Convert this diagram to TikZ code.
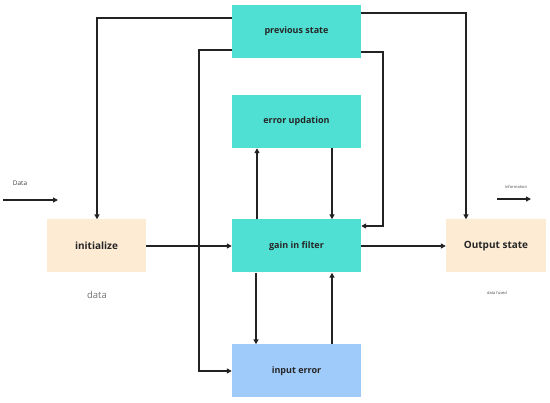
\documentclass[tikz,border=0pt]{standalone}
\usepackage{fontspec}
\setmainfont{Open Sans}
\usetikzlibrary{arrows.meta}
\definecolor{teal1}{HTML}{4FE0D3}
\definecolor{beige1}{HTML}{FDEBD3}
\definecolor{blue1}{HTML}{9FCBFA}
\definecolor{line1}{HTML}{222222}
\begin{document}
\begin{tikzpicture}[x=1pt,y=-1pt,
  box/.style={minimum width=129pt,minimum height=53pt,inner sep=0pt,font=\fontsize{9}{10}\selectfont\bfseries,text=black!85},
  conn/.style={draw=line1,line width=1.4pt,-{Triangle[length=5pt,width=5pt]}},
  plain/.style={draw=line1,line width=1.4pt}]
\useasboundingbox (0,0) rectangle (550,403);
\node[box,fill=teal1] (prev) at (296.5,31.5) {previous state};
\node[box,fill=teal1] (err) at (296.5,121.5) {error updation};
\node[box,fill=teal1] (gain) at (296.5,246) {gain in filter};
\node[box,fill=blue1] (inp) at (296.5,371) {input error};
\node[box,fill=beige1,minimum width=99pt,font=\fontsize{10}{11}\selectfont\bfseries] (init) at (96.5,246) {initialize};
\node[box,fill=beige1,minimum width=100pt,font=\fontsize{10}{11}\selectfont\bfseries] (out) at (496,246) {Output state};
\node[font=\fontsize{9.5}{10}\selectfont,text=black!55] (lbldata) at (97,295) {data};
\node[font=\fontsize{4}{5}\selectfont,text=black!70] (lblfused) at (497,293) {data fused};
\node[font=\fontsize{6.5}{8}\selectfont,text=black!75] (lblData) at (20,183) {Data};
\node[font=\fontsize{4}{5}\selectfont,text=black!70] (lblInfo) at (516,187) {Information};
\coordinate (d1) at (3,200);
\coordinate (d2) at (58,200);
\coordinate (i1) at (497,199);
\coordinate (i2) at (531,199);
\draw[conn] (d1) -- (d2);
\draw[conn] (i1) -- (i2);
% previous state loops
\draw[conn] (prev.west |- 0,18) -- (97,18) -- (init.north -| 97,0);
\draw[conn] (prev.west |- 0,50) -- (199,50) -- (199,371) -- (inp.west);
\draw[conn] (prev.east |- 0,13) -- (466,13) -- (out.north -| 466,0);
\draw[conn] (prev.east |- 0,52) -- (383,52) -- (383,226) -- (gain.east |- 0,226);
% err <-> gain
\draw[conn] (err.south -| 332,0) -- (gain.north -| 332,0);
\draw[conn] (gain.north -| 257,0) -- (err.south -| 257,0);
% gain <-> input
\draw[conn] (gain.south -| 256,0) -- (inp.north -| 256,0);
\draw[conn] (inp.north -| 332,0) -- (gain.south -| 332,0);
% horizontal
\draw[conn] (init.east) -- (gain.west);
\draw[conn] (gain.east) -- (out.west);
\end{tikzpicture}
\end{document}
